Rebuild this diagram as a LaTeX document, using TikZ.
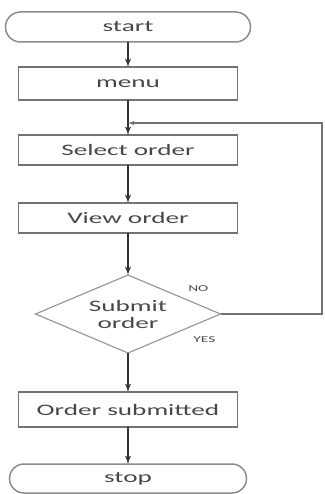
\documentclass[tikz,border=0pt]{standalone}
\usepackage{fontspec}
\setmainfont[FakeStretch=1.7]{Carlito}
\usetikzlibrary{shapes.geometric, shapes.misc, arrows, positioning}

\begin{document}
\begin{tikzpicture}[x=1pt, y=-1pt, node distance=38pt, font=\fontsize{16}{17}\selectfont, text=black!72]
        \tikzstyle{term} = [rounded rectangle, draw=black!45, line width=1.5pt, minimum height=30pt, inner sep=0pt, outer sep=0pt]
        \tikzstyle{proc} = [rectangle, draw=black!55, line width=1.5pt, minimum width=219pt, minimum height=30pt, inner sep=0pt, outer sep=0pt]
        \tikzstyle{dec} = [diamond, draw=black!40, line width=1.2pt, shape aspect=2.37, minimum width=185pt, minimum height=78pt, inner sep=0pt, outer sep=0pt, align=center]
        \tikzstyle{line} = [draw, -latex', line width=1.8pt, black!80]
        \tikzstyle{back} = [draw, -latex', line width=1.2pt, black!55]
        \tikzstyle{lbl} = [font=\fontsize{9}{10}\selectfont, inner sep=0pt]

        \useasboundingbox (0,0) rectangle (324,494);

        \node [term, minimum width=245pt] (start) at (128,27) {start};
        \node [proc, minimum height=33pt, below=25pt of start] (menu) {menu};
        \node [proc, below=35pt of menu] (select) {Select order};
        \node [proc, below=of select] (view) {View order};
        \node [dec, below=42pt of view] (submit) {Submit\\order};
        \node [proc, minimum height=35pt, below=39pt of submit] (done) {Order submitted};
        \node [term, minimum width=237pt, minimum height=29pt, below=37pt of done] (stop) {stop};

        \coordinate [below=23pt of menu] (join);
        \coordinate (rt) at (322,0);

        \node [lbl, above left=22pt and 12pt of submit.east] (no) {NO};
        \node [lbl, below left=22pt and 5pt of submit.east] (yes) {YES};

        \path [line] (start) -- (menu);
        \path [line] (menu) -- (select);
        \path [line] (select) -- (view);
        \path [line] (view) -- (submit);
        \path [line] (submit) -- (done);
        \path [line] (done) -- (stop);
        \path [back] (submit.east) -- (submit.east -| rt) |- (join);
    \end{tikzpicture}
\end{document}
